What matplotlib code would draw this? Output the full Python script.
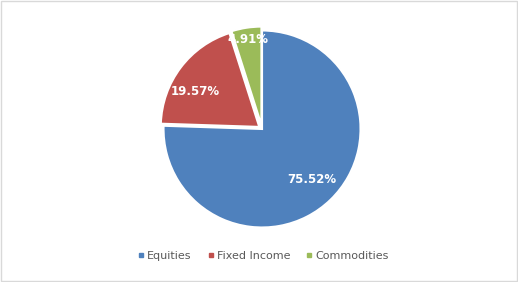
import matplotlib.pyplot as plt
import numpy as np
from matplotlib.patches import Rectangle

# data
labels = ["Equities", "Fixed Income", "Commodities"]
values = [75.52, 19.57, 4.91]
colors = ["#4F81BD", "#C0504D", "#9BBB59"]
explode = [0.0, 0.035, 0.04]
label_dist = [0.72, 0.74, 0.88]
label_rot = [0, 8, 0]  # small angular nudge, degrees

fig = plt.figure(figsize=(5.18, 2.82), dpi=100)
fig.patch.set_facecolor("white")
fig.patches.append(Rectangle((0.001, 0.002), 0.997, 0.995, transform=fig.transFigure,
                             fill=False, edgecolor="#D9D9D9", linewidth=1))

ax = fig.add_axes([0.3157, 0.1933, 0.3803, 0.6986])
wedges, _ = ax.pie(values, colors=colors, explode=explode, startangle=90,
                   counterclock=False,
                   wedgeprops=dict(edgecolor="white", linewidth=1.5))
ax.set_xlim(-1, 1)
ax.set_ylim(-1, 1)
ax.set_aspect("equal")
ax.axis("off")

for w, v, d, e, rot in zip(wedges, values, label_dist, explode, label_rot):
    ang = np.deg2rad((w.theta1 + w.theta2) / 2 + rot)
    r = d + e
    ax.text(r * np.cos(ang), r * np.sin(ang), f"{v:.2f}%", ha="center", va="center",
            color="white", fontsize=8.5, fontweight="bold")

handles = [plt.Line2D([], [], marker="s", linestyle="", markersize=3.5,
                      markerfacecolor=c, markeredgecolor=c) for c in colors]
fig.legend(handles, labels, loc="center", bbox_to_anchor=(0.508, 0.092), ncol=3,
           frameon=False, fontsize=8, labelcolor="#595959", handletextpad=0.25,
           columnspacing=1.4, handlelength=0.6)

plt.savefig("out.png", dpi=100)
